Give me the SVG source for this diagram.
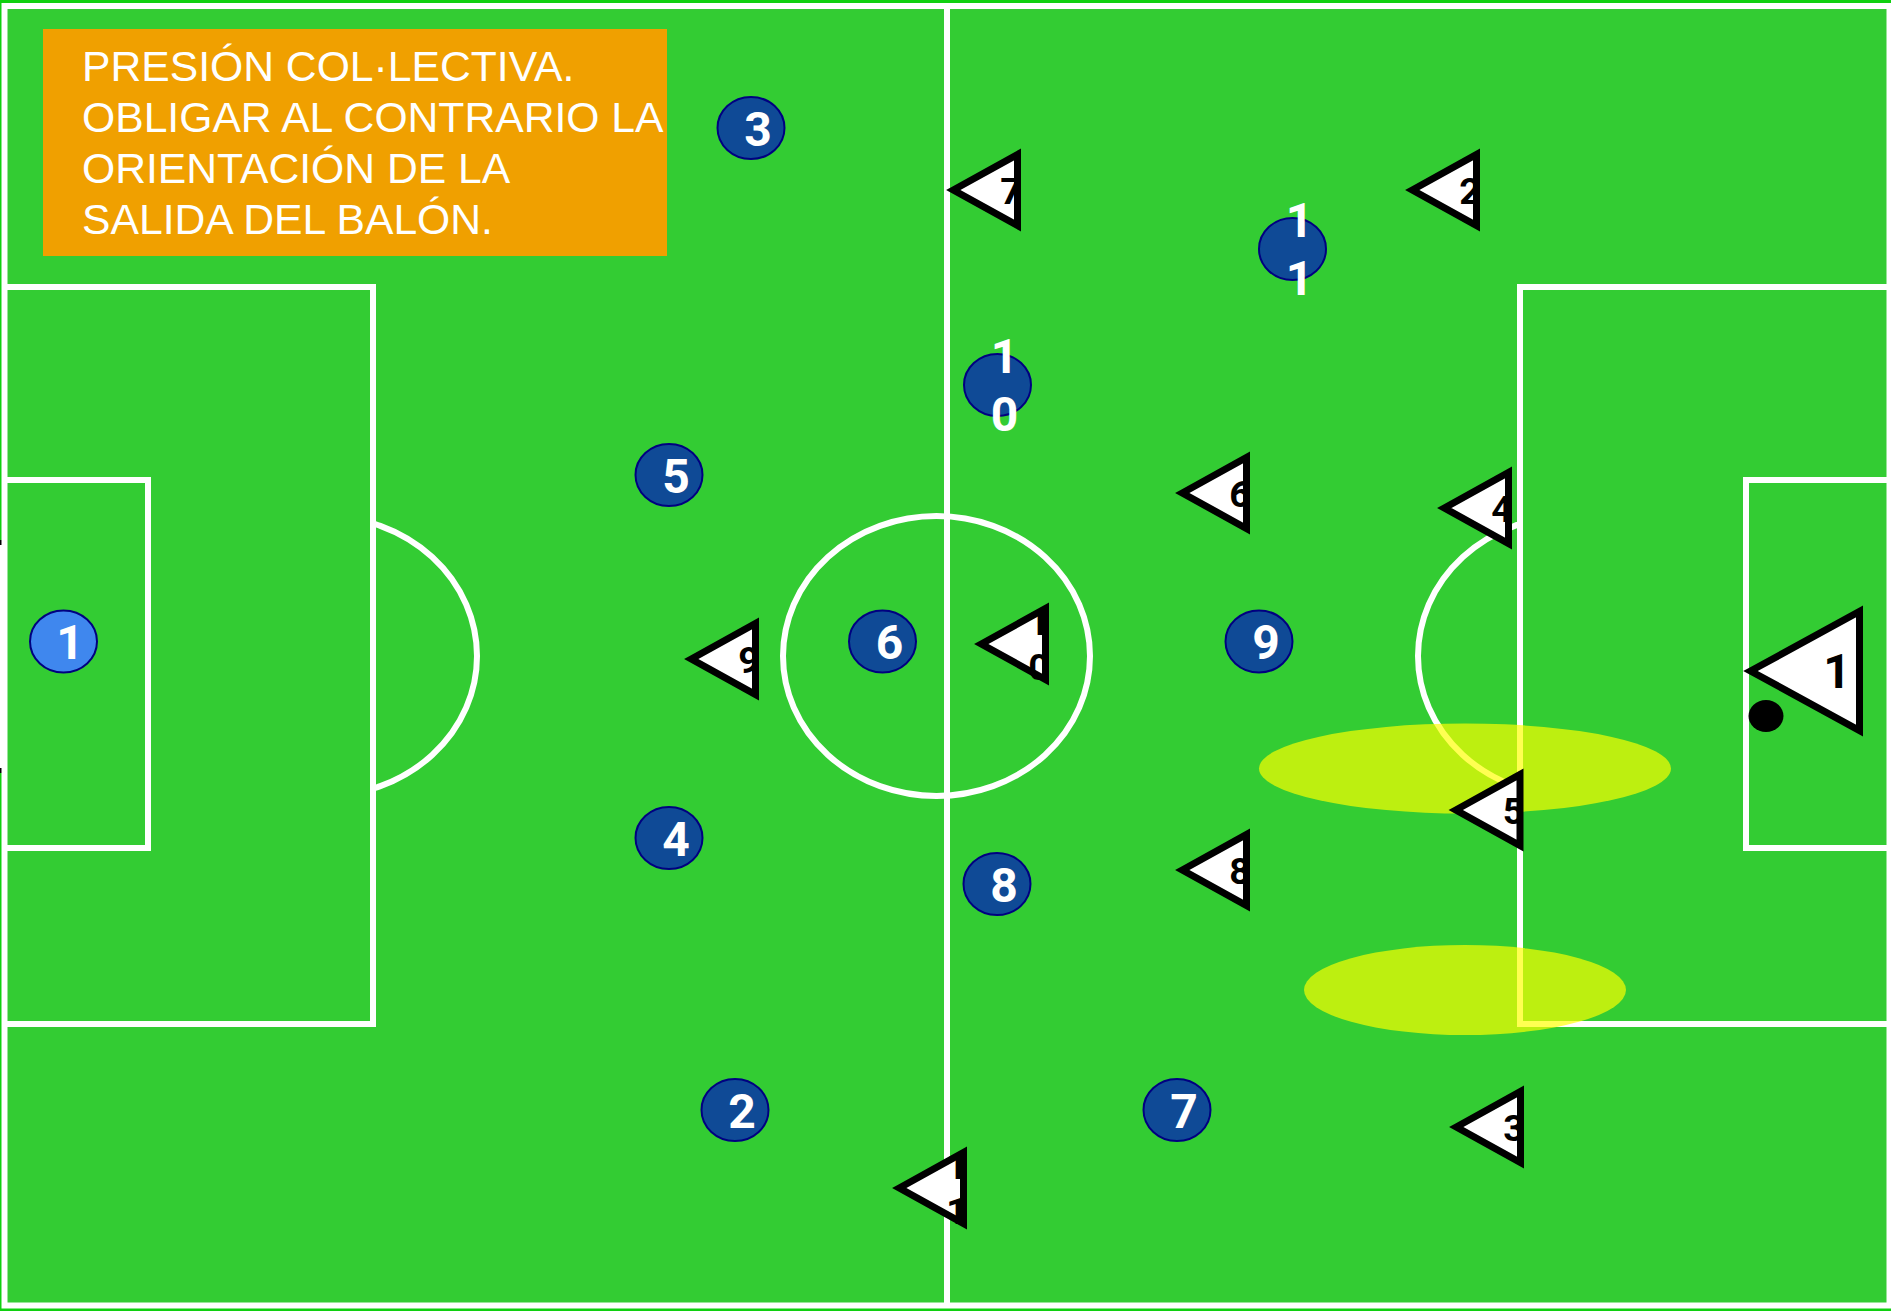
<svg xmlns="http://www.w3.org/2000/svg" xmlns:xlink="http://www.w3.org/1999/xlink" width="1891" height="1311" viewBox="0 0 1891 1311">
<style>
.line{fill:none;stroke:#fff;stroke-width:6}
.zone{fill:#ff0;fill-opacity:.68}
.p{stroke:#000080;stroke-width:2;fill:#0f4a96}
.gk{fill:#3f87ee}
.t{fill:#fff;stroke:#000;stroke-width:7;stroke-miterlimit:10}
text{font-family:"Liberation Sans",Arial,sans-serif;text-anchor:middle}
.w{font-family:Roboto,"Liberation Sans",sans-serif;font-size:48px;font-weight:700;fill:#fff}
.b{font-family:Roboto,"Liberation Sans",sans-serif;font-size:37.33px;font-weight:700;fill:#000}
.title{font-size:42.67px;fill:#fff;text-anchor:start}
</style>
<defs>
<clipPath id="cl"><rect x="376" y="0" width="200" height="1311"/></clipPath>
<clipPath id="cr"><rect x="1300" y="0" width="217" height="1311"/></clipPath>
<polygon id="tri" class="t" points="6.3,0 70.5,-35.5 70.5,35.5"/>
<ellipse id="dot" class="p" rx="33.5" ry="31"/>
</defs>
<g id="pitch">
<rect width="1891" height="1311" fill="#10d010"/>
<rect x="4" y="6" width="1887" height="1299.5" fill="#33cc33"/>
<rect x="0" y="545" width="4.5" height="223" fill="#fff"/>
<rect x="0" y="540" width="2" height="5" fill="#000"/>
<rect x="0" y="768" width="2" height="5" fill="#000"/>
<rect class="line" x="4.5" y="6" width="1885" height="1299.5"/>
<path class="line" d="M947 6V1305"/>
<path class="line" d="M4 287H373V1024H4"/>
<path class="line" d="M4 480H148V848H4"/>
<path class="line" d="M1891 287H1520V1024H1891"/>
<path class="line" d="M1891 480H1746V848H1891"/>
<ellipse class="line" cx="936.5" cy="656" rx="153.5" ry="140"/>
<ellipse class="line" cx="324" cy="656" rx="153" ry="140" clip-path="url(#cl)"/>
<ellipse class="line" cx="1571" cy="656" rx="153" ry="140" clip-path="url(#cr)"/>
</g>
<g id="zones">
<ellipse class="zone" cx="1465" cy="768.5" rx="206" ry="45"/>
<ellipse class="zone" cx="1465" cy="990" rx="161" ry="45"/>
</g>
<g id="title">
<rect x="43" y="29" width="624" height="227" fill="#f0a000"/>
<text class="title" x="82" y="81">PRESIÓN COL·LECTIVA.</text>
<text class="title" x="82" y="132">OBLIGAR AL CONTRARIO LA</text>
<text class="title" x="82" y="183">ORIENTACIÓN DE LA</text>
<text class="title" x="82" y="234">SALIDA DEL BALÓN.</text>
</g>
<g id="blue-1" transform="translate(63.5 641.5)"><ellipse class="p gk" rx="33.5" ry="31"/><text class="w" x="6.5" y="17.5">1</text></g>
<g id="blue-2" transform="translate(735 1110)"><use xlink:href="#dot" href="#dot"/><text class="w" x="7" y="17.5">2</text></g>
<g id="blue-3" transform="translate(751 128)"><use xlink:href="#dot" href="#dot"/><text class="w" x="7" y="17.5">3</text></g>
<g id="blue-4" transform="translate(669 838)"><use xlink:href="#dot" href="#dot"/><text class="w" x="7" y="17.5">4</text></g>
<g id="blue-5" transform="translate(669 475)"><use xlink:href="#dot" href="#dot"/><text class="w" x="7" y="17.5">5</text></g>
<g id="blue-6" transform="translate(882.5 641.5)"><use xlink:href="#dot" href="#dot"/><text class="w" x="7" y="17.5">6</text></g>
<g id="blue-7" transform="translate(1177 1110)"><use xlink:href="#dot" href="#dot"/><text class="w" x="7" y="17.5">7</text></g>
<g id="blue-8" transform="translate(997 884)"><use xlink:href="#dot" href="#dot"/><text class="w" x="7" y="17.5">8</text></g>
<g id="blue-9" transform="translate(1259 641.5)"><use xlink:href="#dot" href="#dot"/><text class="w" x="7" y="17.5">9</text></g>
<g id="blue-10" transform="translate(997.5 385)"><use xlink:href="#dot" href="#dot"/><text class="w" x="7" y="-12">1</text><text class="w" x="7" y="46">0</text></g>
<g id="blue-11" transform="translate(1292.5 249)"><use xlink:href="#dot" href="#dot"/><text class="w" x="7" y="-12">1</text><text class="w" x="7" y="46">1</text></g>
<g id="white-1"><polygon class="t" points="1750.5,671 1859.5,611.5 1859.5,730.5"/><text class="b" style="font-size:48px" x="1837" y="688">1</text></g>
<g id="white-2" transform="translate(1406 190)"><use xlink:href="#tri" href="#tri"/><text class="b" x="64" y="14">2</text></g>
<g id="white-3" transform="translate(1450 1127)"><use xlink:href="#tri" href="#tri"/><text class="b" x="64" y="14">3</text></g>
<g id="white-4" transform="translate(1438 508)"><use xlink:href="#tri" href="#tri"/><text class="b" x="64" y="14">4</text></g>
<g id="white-5" transform="translate(1449.5 810)"><use xlink:href="#tri" href="#tri"/><text class="b" x="64" y="14">5</text></g>
<g id="white-6" transform="translate(1176 493)"><use xlink:href="#tri" href="#tri"/><text class="b" x="64" y="14">6</text></g>
<g id="white-7" transform="translate(947 190)"><use xlink:href="#tri" href="#tri"/><text class="b" x="64" y="14">7</text></g>
<g id="white-8" transform="translate(1176 870)"><use xlink:href="#tri" href="#tri"/><text class="b" x="64" y="14">8</text></g>
<g id="white-9" transform="translate(685 659)"><use xlink:href="#tri" href="#tri"/><text class="b" x="64" y="14">9</text></g>
<g id="white-10" transform="translate(975 644)"><use xlink:href="#tri" href="#tri"/><text class="b" x="64" y="-9">1</text><text class="b" x="64" y="36">0</text></g>
<g id="white-11" transform="translate(893 1188)"><use xlink:href="#tri" href="#tri"/><text class="b" x="64" y="-9">1</text><text class="b" x="64" y="36">1</text></g>
<ellipse id="ball" cx="1766" cy="716" rx="17.5" ry="16"/>
</svg>
